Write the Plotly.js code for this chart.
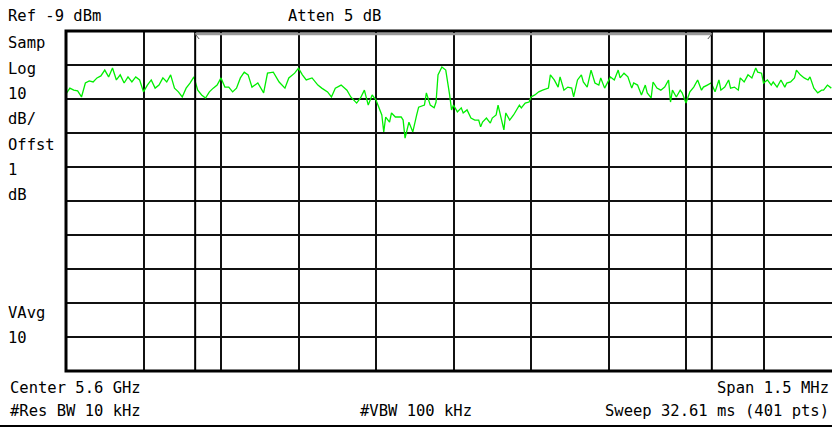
<!DOCTYPE html>
<html>
<head>
<meta charset="utf-8">
<script src="https://cdn.plot.ly/plotly-3.0.1.min.js"></script>
<style>
html,body{margin:0;padding:0;overflow:hidden;background:#fff;width:832px;height:428px;}
#chart{width:860px;height:428px;}
</style>
</head>
<body>
<div id="chart"></div>
<script>
// Instrument settings
const centerMHz = 5600;
const spanMHz = 1.5;
const numPts = 401;
const refLevelDbm = -9;
const dbPerDiv = 10;
const markerOffsetsMHz = [-0.5, 0.5];

// Trace readings: sweep point index and level (dBm)
const sweepIndex = [
  0,2,4,6,8,10,12,14,16,18,20,22,24,26,28,30,32,34,36,38,40,42,44,46,48,50,52,54,56,58,60,62,64,66,68,70,72,74,76,78,80,82,84,86,88,90,92,94,96,
  99,102,104,107,110,113,115,118,120,122,124,127,130,132,135,137,139,142,145,147,150,152,154,156,158,160,161,163,164,165,167,168,170,173,174,175,177,179,181,182,185,186,188,190,191,192,194,196,
  198,199,200,202,204,205,207,209,211,213,214,215,217,219,220,222,223,226,227,229,231,232,234,235,237,239,240,242,244,246,249,250,252,254,255,257,259,261,262,264,266,267,269,271,273,275,276,278,280,281,283,285,286,288,290,292,293,295,
  297,299,300,302,303,305,307,309,311,312,313,315,317,318,320,322,324,326,328,329,331,333,335,337,338,340,342,343,345,347,348,350,352,354,356,357,359,360,362,364,365,367,369,371,372,374,376,377,379,381,383,384,386,388,390,391,393,395
];
const levelDbm = [
  -27.5,-25.8,-26.4,-26.6,-28.4,-24.3,-23.7,-24.0,-22.8,-22.2,-20.5,-22.5,-19.9,-23.4,-21.9,-24.3,-22.5,-24.0,-22.5,-23.4,-26.9,-24.9,-23.4,-25.8,-24.9,-22.8,-24.0,-21.9,-25.8,-26.9,-28.4,-25.8,-24.3,-22.5,-26.4,-27.8,-28.7,-26.9,-25.8,-24.9,-22.8,-25.5,-25.5,-26.9,-25.8,-22.8,-21.1,-21.9,-25.5,
  -24.3,-27.2,-21.4,-21.1,-24.0,-25.8,-22.8,-21.4,-19.9,-21.9,-23.4,-22.8,-24.9,-25.8,-26.9,-28.4,-25.8,-24.9,-26.4,-28.4,-30.2,-28.7,-26.4,-30.8,-27.8,-29.3,-30.8,-33.7,-38.7,-34.3,-35.8,-33.1,-34.3,-34.3,-35.2,-40.5,-35.8,-38.7,-33.7,-31.4,-30.8,-27.2,-30.8,-31.6,-29.9,-21.9,-19.6,-20.5,
  -27.8,-32.2,-30.8,-32.8,-31.6,-33.1,-32.2,-34.6,-35.2,-35.2,-37.2,-35.8,-34.6,-36.1,-34.6,-33.7,-30.8,-38.1,-33.1,-35.2,-33.7,-32.8,-30.8,-31.6,-30.2,-29.9,-28.4,-27.8,-26.9,-26.4,-25.8,-21.9,-23.4,-25.5,-22.5,-26.4,-25.5,-25.8,-28.4,-23.4,-21.9,-24.0,-25.5,-20.5,-24.3,-24.9,-22.8,-25.8,-23.4,-22.5,-23.4,-20.5,-22.8,-21.4,-22.5,-25.8,-24.3,-24.9,
  -27.8,-24.9,-27.2,-28.7,-24.0,-25.8,-26.4,-25.5,-23.4,-29.9,-26.4,-28.4,-26.4,-27.2,-30.2,-26.9,-25.5,-23.4,-26.4,-25.5,-24.9,-24.3,-26.9,-23.4,-26.4,-25.5,-23.4,-25.8,-25.5,-26.4,-22.8,-24.0,-21.9,-22.8,-19.9,-21.1,-21.4,-24.3,-23.4,-24.9,-24.0,-25.5,-23.4,-25.5,-24.3,-24.0,-22.8,-20.5,-21.9,-22.8,-23.4,-22.5,-25.8,-27.2,-26.4,-26.4,-24.9,-25.8
];

// Screen text
const topTexts = ["Ref -9 dBm", "Atten 5 dB"];
const sideTexts = ["Samp", "Log", "10", "dB/", "Offst", "1", "dB", "VAvg", "10"];
const bottomTexts = ["Center 5.6 GHz", "Span 1.5 MHz", "#Res BW 10 kHz", "#VBW 100 kHz", "Sweep 32.61 ms (401 pts)"];

const startMHz = centerMHz - spanMHz / 2;
const stopMHz = centerMHz + spanMHz / 2;
const freqMHz = sweepIndex.map(i => startMHz + i * spanMHz / (numPts - 1));

// layout geometry (pixels)
const L = 66, T = 31, PW = 775, PH = 340, W = 860, H = 428;
const px = x => (x - L) / PW;
const py = y => (T + PH - y) / PH;

const fontFam = "DejaVu Sans Mono, monospace";
function txt(text, x, y, anchor) {
  return {text: text, xref: 'paper', yref: 'paper', x: px(x), y: py(y),
    xanchor: anchor || 'left', yanchor: 'middle', showarrow: false,
    font: {family: fontFam, size: 15.5, color: '#000'}};
}

const annotations = [
  txt(topTexts[0], 6, 16),
  txt(topTexts[1], 286, 16),
  txt(sideTexts[0], 6, 43),
  txt(sideTexts[1], 6, 69),
  txt(sideTexts[2], 6, 94),
  txt(sideTexts[3], 6, 119),
  txt(sideTexts[4], 6, 145),
  txt(sideTexts[5], 6, 170),
  txt(sideTexts[6], 6, 195),
  txt(sideTexts[7], 6, 313),
  txt(sideTexts[8], 6, 338),
  txt(bottomTexts[0], 8, 388),
  txt(bottomTexts[1], 831, 388, 'right'),
  txt(bottomTexts[2], 8, 411),
  txt(bottomTexts[3], 358, 411),
  txt(bottomTexts[4], 831, 411, 'right')
];

const mk = markerOffsetsMHz.map(o => centerMHz + o);
const shapes = [
  // marker lines
  {type: 'line', xref: 'x', yref: 'paper', x0: mk[0], x1: mk[0], y0: 0, y1: 1, line: {color: '#000', width: 2}},
  {type: 'line', xref: 'x', yref: 'paper', x0: mk[1], x1: mk[1], y0: 0, y1: 1, line: {color: '#000', width: 2}},
  // span bar at top
  {type: 'line', xref: 'x', yref: 'paper', x0: mk[0], x1: mk[1], y0: py(34), y1: py(34), line: {color: '#9a9a9a', width: 2.5}},
  {type: 'line', xref: 'x', yref: 'paper', xsizemode: 'pixel', xanchor: mk[0], x0: 0, x1: 4, y0: py(34), y1: py(39), line: {color: '#555', width: 1}},
  {type: 'line', xref: 'x', yref: 'paper', xsizemode: 'pixel', xanchor: mk[1], x0: 0, x1: -4, y0: py(34), y1: py(39), line: {color: '#555', width: 1}},
  // frame
  {type: 'rect', xref: 'paper', yref: 'paper', x0: 0, x1: 1, y0: 0, y1: 1, line: {color: '#000', width: 3}},
  // bottom rule
  {type: 'line', xref: 'paper', yref: 'paper', x0: px(0), x1: px(860), y0: py(426), y1: py(426), line: {color: '#000', width: 2}}
];

const trace = {
  x: freqMHz, y: levelDbm, type: 'scatter', mode: 'lines',
  line: {color: '#00ee00', width: 1.3}, hoverinfo: 'skip'
};

const layout = {
  width: W, height: H,
  margin: {l: L, r: W - L - PW, t: T, b: H - T - PH, pad: 0},
  paper_bgcolor: '#fff', plot_bgcolor: '#fff',
  showlegend: false,
  xaxis: {range: [startMHz, stopMHz], tick0: startMHz, dtick: spanMHz / 10, showticklabels: false,
    ticks: '', showgrid: true, gridcolor: '#111', gridwidth: 2, zeroline: false, showline: false, fixedrange: true},
  yaxis: {range: [refLevelDbm - 10 * dbPerDiv, refLevelDbm], tick0: refLevelDbm, dtick: dbPerDiv, showticklabels: false,
    ticks: '', showgrid: true, gridcolor: '#111', gridwidth: 2, zeroline: false, showline: false, fixedrange: true},
  annotations: annotations,
  shapes: shapes
};

Plotly.newPlot('chart', [trace], layout, {displayModeBar: false, staticPlot: true});
</script>
</body>
</html>
